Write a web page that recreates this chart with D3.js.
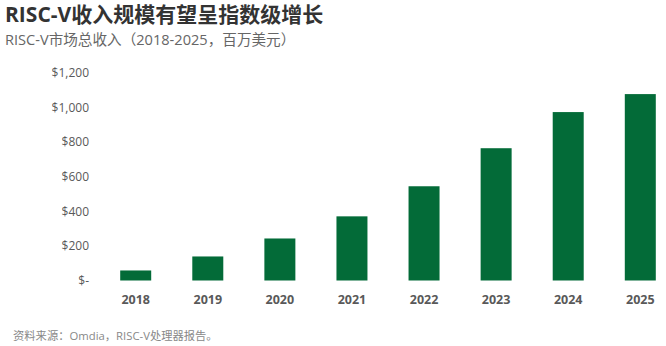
<!DOCTYPE html>
<html lang="zh">
<head>
  <meta charset="UTF-8" />
  <title>RISC-V收入规模</title>
  <style>
    body { margin: 0; padding: 0; background: #fff; font-family: "Open Sans", "Noto Sans CJK SC", sans-serif; }
    svg { display: block; }
    .title { font-size: 21px; font-weight: bold; fill: #333; }
    .subtitle { font-size: 14.6px; fill: #666; }
    .source { font-size: 11.3px; fill: #888; }
    .ytick { font-size: 12px; fill: #595959; text-anchor: end; }
    .xtick { font-size: 12.5px; font-weight: bold; fill: #595959; text-anchor: middle; }
  </style>
</head>
<body>
  <svg id="chart" width="666" height="346"></svg>
  <script src="https://d3js.org/d3.v7.min.js"></script>
  <script>
    const years = ["2018", "2019", "2020", "2021", "2022", "2023", "2024", "2025"];
    const revenue = [58, 139, 243, 371, 545, 765, 974, 1078];
    const yTicks = [0, 200, 400, 600, 800, 1000, 1200];

    const svg = d3.select("#chart");

    const x = d3.scaleBand()
      .domain(years)
      .range([113, 663])
      .paddingInner(0.57)
      .paddingOuter(0.1);

    const y = d3.scaleLinear()
      .domain([0, 1200])
      .range([280.5, 73]);

    const fmt = v => v === 0 ? "$-" : "$" + d3.format(",")(v);

    svg.append("text").attr("class", "title")
      .attr("x", 5).attr("y", 22)
      .text("RISC-V收入规模有望呈指数级增长");

    svg.append("text").attr("class", "subtitle")
      .attr("x", 5).attr("y", 45)
      .text("RISC-V市场总收入（2018-2025，百万美元）");

    svg.selectAll(".ytick")
      .data(yTicks)
      .enter().append("text")
      .attr("class", "ytick")
      .attr("x", 89)
      .attr("y", d => y(d))
      .attr("dy", "0.35em")
      .text(fmt);

    svg.selectAll(".bar")
      .data(revenue)
      .enter().append("rect")
      .attr("class", "bar")
      .attr("x", (d, i) => x(years[i]))
      .attr("width", x.bandwidth())
      .attr("y", d => y(d))
      .attr("height", d => y(0) - y(d))
      .attr("fill", "#036b38");

    svg.selectAll(".xtick")
      .data(years)
      .enter().append("text")
      .attr("class", "xtick")
      .attr("x", d => x(d) + x.bandwidth() / 2)
      .attr("y", 300)
      .attr("dy", "0.35em")
      .text(d => d);

    svg.append("text").attr("class", "source")
      .attr("x", 13).attr("y", 340)
      .text("资料来源：Omdia，RISC-V处理器报告。");
  </script>
</body>
</html>
